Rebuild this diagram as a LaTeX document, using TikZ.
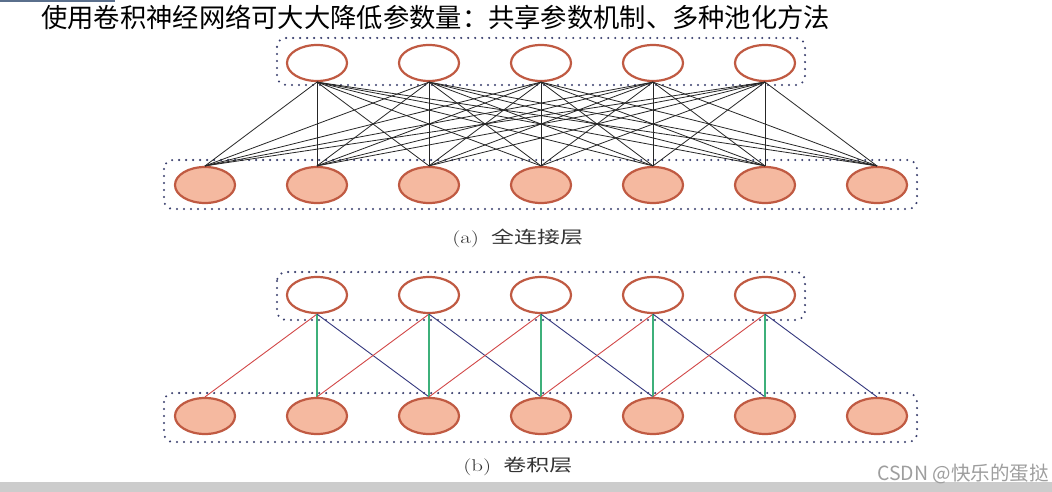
\documentclass[tikz,border=0pt]{standalone}
\usepackage{fontspec}
\usetikzlibrary{shapes.geometric}
\newfontfamily\cjk{Noto Sans CJK SC}
\definecolor{nodeedge}{HTML}{C05A42}
\definecolor{nodefill}{HTML}{F5B9A0}
\definecolor{boxdot}{HTML}{3A3F6E}
\definecolor{redline}{HTML}{D24848}
\definecolor{greenline}{HTML}{3DB07A}
\definecolor{blueline}{HTML}{34387E}
\definecolor{barblue}{HTML}{5A6F8C}
\tikzset{
  outnode/.style={ellipse, draw=nodeedge, line width=2.2pt, fill=white, minimum width=60pt, minimum height=36pt, inner sep=0pt},
  innode/.style={outnode, fill=nodefill},
  dotbox/.style={draw=boxdot, line width=2.3pt, dash pattern=on 0pt off 7pt, line cap=round, rounded corners=9pt},
  fcline/.style={draw=black!85, line width=0.8pt},
  rline/.style={draw=redline, line width=0.9pt},
  gline/.style={draw=greenline, line width=1.3pt},
  bline/.style={draw=blueline, line width=0.9pt},
  caption/.style={inner sep=0pt, xscale=1.35, transform shape, text=black!80},
}
\begin{document}
\begin{tikzpicture}[x=1pt,y=-1pt]
\useasboundingbox (0,0) rectangle (1052,492);
\fill[white] (0,0) rectangle (1052,492);
\fill[barblue] (0,0) rectangle (115,2);
\fill[black!20] (0,482) rectangle (1052,492);
\node[anchor=west, inner sep=0pt] (title) at (41,17) {\cjk\fontsize{26.3}{28}\selectfont 使用卷积神经网络可大大降低参数量：共享参数机制、多种池化方法};
% (a) boxes
\draw[dotbox] (277,38) rectangle (805,85);
\draw[dotbox] (164,160) rectangle (917,209);
% (b) boxes
\draw[dotbox] (277,272) rectangle (805,320);
\draw[dotbox] (164,393) rectangle (917,442);
% nodes
\foreach \i in {0,...,4} {
  \node[outnode] (at\i) at ({317+112*\i},63) {};
  \node[outnode] (bt\i) at ({317+112*\i},295) {};
}
\foreach \j in {0,...,6} {
  \node[innode] (ab\j) at ({205+112*\j},185) {};
  \node[innode] (bb\j) at ({205+112*\j},416) {};
}
% (a) full connections
\foreach \i in {0,...,4} {
  \foreach \j in {0,...,6} {
    \draw[fcline] (at\i.south) -- (ab\j.north);
  }
}
% (b) local connections
\foreach \i [evaluate=\i as \k using int(\i+1), evaluate=\i as \m using int(\i+2)] in {0,...,4} {
  \draw[rline] (bt\i.south) -- (bb\i.north);
  \draw[gline] (bt\i.south) -- (bb\k.north);
  \draw[bline] (bt\i.south) -- (bb\m.north);
}
\node[caption, anchor=west] (labela) at (452,238) {\fontsize{17}{19}\selectfont (a)\hspace{9pt}\cjk 全连接层};
\node[caption, anchor=west] (labelb) at (463,466) {\fontsize{17}{19}\selectfont (b)\hspace{9pt}\cjk 卷积层};
\node[anchor=east, inner sep=0pt, text=black!38] (wm) at (1049,474) {\cjk\fontsize{19.5}{21}\selectfont CSDN @快乐的蛋挞};
\end{tikzpicture}
\end{document}
